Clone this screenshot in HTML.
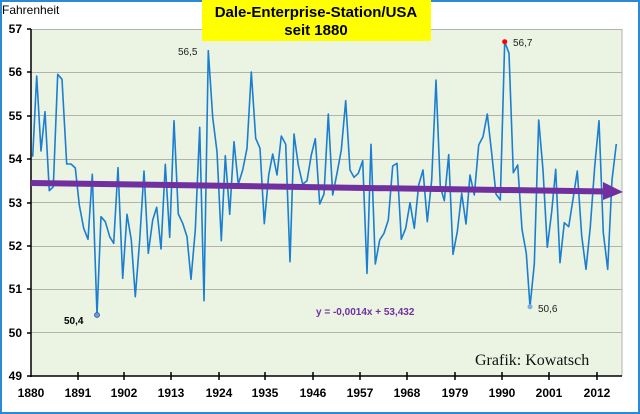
<!DOCTYPE html>
<html><head><meta charset="utf-8"><style>
body{margin:0;background:#fff}
svg{display:block}
text{font-family:"Liberation Sans",sans-serif}
</style></head><body>
<svg width="640" height="414" viewBox="0 0 640 414" xmlns="http://www.w3.org/2000/svg">
<rect x="0" y="0" width="640" height="414" fill="#fff"/>
<rect x="1" y="1" width="638" height="412" fill="none" stroke="#2a8ad4" stroke-width="2"/>
<rect x="31" y="29" width="591" height="347" fill="#ebf3e3"/>
<g stroke="#b0b4ac" stroke-width="1">
<line x1="31" y1="72.5" x2="622" y2="72.5"/>
<line x1="31" y1="115.5" x2="622" y2="115.5"/>
<line x1="31" y1="159.5" x2="622" y2="159.5"/>
<line x1="31" y1="202.5" x2="622" y2="202.5"/>
<line x1="31" y1="246.5" x2="622" y2="246.5"/>
<line x1="31" y1="289.5" x2="622" y2="289.5"/>
<line x1="31" y1="332.5" x2="622" y2="332.5"/>
<line x1="31" y1="29.5" x2="622" y2="29.5"/>
<line x1="622" y1="29" x2="622" y2="376"/>
</g>
<g stroke="#000" stroke-width="1.5">
<line x1="31" y1="29" x2="31" y2="377"/>
<line x1="30" y1="376" x2="622" y2="376"/>
<line x1="27" y1="29" x2="31" y2="29"/><line x1="27" y1="72" x2="31" y2="72"/><line x1="27" y1="116" x2="31" y2="116"/><line x1="27" y1="159" x2="31" y2="159"/><line x1="27" y1="203" x2="31" y2="203"/><line x1="27" y1="246" x2="31" y2="246"/><line x1="27" y1="289" x2="31" y2="289"/><line x1="27" y1="333" x2="31" y2="333"/><line x1="27" y1="376" x2="31" y2="376"/>
<line x1="78" y1="372" x2="78" y2="380"/><line x1="124" y1="372" x2="124" y2="380"/><line x1="171" y1="372" x2="171" y2="380"/><line x1="219" y1="372" x2="219" y2="380"/><line x1="265" y1="372" x2="265" y2="380"/><line x1="313" y1="372" x2="313" y2="380"/><line x1="360" y1="372" x2="360" y2="380"/><line x1="407" y1="372" x2="407" y2="380"/><line x1="455" y1="372" x2="455" y2="380"/><line x1="502" y1="372" x2="502" y2="380"/><line x1="549" y1="372" x2="549" y2="380"/><line x1="597" y1="372" x2="597" y2="380"/>
</g>
<g font-size="12" font-weight="bold" fill="#000" text-anchor="end">
<text x="22" y="33">57</text><text x="22" y="76">56</text><text x="22" y="120">55</text><text x="22" y="163">54</text><text x="22" y="207">53</text><text x="22" y="250">52</text><text x="22" y="293">51</text><text x="22" y="337">50</text><text x="22" y="380">49</text>
</g>
<g font-size="12" font-weight="bold" fill="#000" text-anchor="middle">
<text x="31" y="397">1880</text><text x="78" y="397">1891</text><text x="124" y="397">1902</text><text x="171" y="397">1913</text><text x="219" y="397">1924</text><text x="265" y="397">1935</text><text x="313" y="397">1946</text><text x="360" y="397">1957</text><text x="407" y="397">1968</text><text x="455" y="397">1979</text><text x="502" y="397">1990</text><text x="549" y="397">2001</text><text x="597" y="397">2012</text>
</g>
<text x="2" y="14" font-size="12" fill="#000">Fahrenheit</text>
<rect x="202" y="0" width="229" height="41" fill="#ffff00"/>
<text x="316" y="17" font-size="15" font-weight="bold" text-anchor="middle">Dale-Enterprise-Station/USA</text>
<text x="316" y="35" font-size="15" font-weight="bold" text-anchor="middle">seit 1880</text>
<polyline fill="none" stroke="#1a7fd0" stroke-width="1.6" stroke-linejoin="round" points="32.7,156.7 36.7,76 41,151 45,111.7 49.3,190.7 53.3,186.7 57.7,74.3 62,79.3 66.7,164 71,164 75.3,168 79.3,205 83.7,228.3 88,239.3 92.3,174.3 97,315 101,216.7 105.3,221.7 109.7,236.7 113.7,243.3 118,167.7 122.7,278.3 127,214.3 131.3,240 135.3,296.7 139.7,240 144,171 148.3,253.3 152.7,220 156.7,207.3 161,249 165.3,164.3 169.7,237.3 174,120.7 178.3,214 182.7,223.3 187,236.7 191,279.3 195.3,230 199.7,127.3 204,300.7 208.3,50.7 212.7,117.3 217,151.7 221.3,240.7 225.3,155.7 229.7,214.3 234,141.7 238.3,184.3 242.7,170 247,148.3 251.3,72 255.7,138.3 260,148.3 264.3,223.7 268.7,175 272.7,154 277,175 281.3,136 285.7,144.3 290,261.7 294,134 298.3,165 302.7,184.3 307,180.7 311.3,155 315.3,138.7 319.7,204 324,194 328.3,114 332.7,195 337,173.3 341.3,150 345.7,100.7 350,170 354,177.3 358.3,173.3 362.7,160.7 367,273.3 371,144.3 375.3,264 379.7,240 384,233.3 388.3,220 392.7,166 397,163.3 401.3,239.3 405.7,228.3 410,202.7 414.3,228.3 418.7,185 423,170 427.3,221.7 431.7,180 436,80 440.3,186.7 444.3,200.7 448.7,154.7 453,254.3 457.3,231.7 461.7,193.3 466,224 470,175 474.3,195 478.7,145 483,136.7 487.3,114 491.7,153.3 496,194 500.3,200 504.7,41.7 509,53.3 513.3,172.7 517.7,165 522,229.3 526.3,253.3 530,306.7 534.3,264 538.7,120 543,170 547.3,247.3 551.7,211.7 555.7,169.3 560,262.7 564.3,222.7 568.7,226.7 573,199.3 577.3,171 581.7,236 586,269.3 590.3,226.7 594.7,166.7 599,120.7 603.3,232.7 607.7,269.3 612,180 616.3,144"/>
<line x1="31" y1="183" x2="606" y2="191.5" stroke="#7030a0" stroke-width="6"/>
<polygon points="603,182 623,192 603,200" fill="#7030a0"/>
<circle cx="97" cy="315" r="2.5" fill="#6a9be0" stroke="#2a5a9a" stroke-width="0.8"/>
<circle cx="504.7" cy="41.7" r="2.5" fill="#ff0000"/>
<circle cx="530" cy="306.7" r="2.5" fill="#7aaee8"/>
<text x="64" y="324" font-size="10" font-weight="bold" fill="#000">50,4</text>
<text x="178" y="55" font-size="10" fill="#222">56,5</text>
<text x="513" y="46" font-size="10" fill="#222">56,7</text>
<text x="538" y="312" font-size="10" fill="#222">50,6</text>
<text x="316" y="315" font-size="10" font-weight="bold" fill="#7030a0">y = -0,0014x + 53,432</text>
<text x="475" y="365" font-size="16" fill="#111" style="font-family:'Liberation Serif',serif">Grafik: Kowatsch</text>
</svg>
</body></html>
